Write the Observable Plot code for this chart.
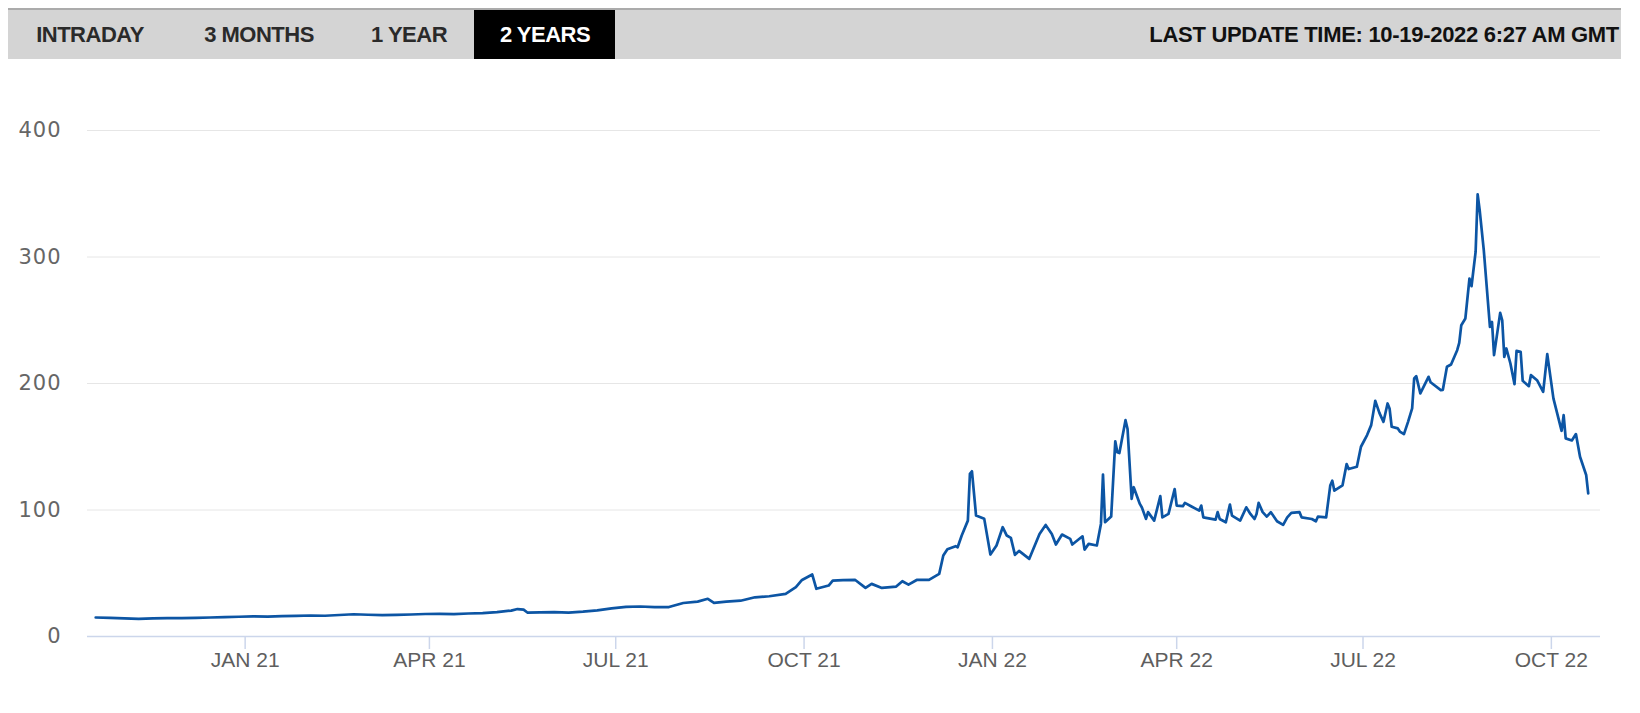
<!DOCTYPE html>
<html>
<head>
<meta charset="utf-8">
<script src="https://cdn.jsdelivr.net/npm/d3@7"></script>
<script src="https://cdn.jsdelivr.net/npm/@observablehq/plot@0.6"></script>
<style>
  html, body { margin: 0; padding: 0; background: #fff; width: 1640px; height: 713px; overflow: hidden; }
  #bar { position: absolute; left: 8px; top: 8px; width: 1613px; height: 49px; background: #d4d4d4; border-top: 2px solid #ababab; }
  .tab { position: absolute; top: 0; height: 49px; line-height: 49px; font-family: "Liberation Sans", Arial, sans-serif; font-weight: bold; font-size: 22px; letter-spacing: -0.5px; color: #2a2a2a; transform: translateX(-50%); white-space: nowrap; }
  #active { position: absolute; left: 466px; top: 0; width: 141px; height: 49px; background: #000; }
  #upd { position: absolute; right: 2px; top: 0; height: 49px; line-height: 49px; font-family: "Liberation Sans", Arial, sans-serif; font-weight: bold; font-size: 22px; letter-spacing: -0.3px; color: #111; white-space: nowrap; }
  #chart { position: absolute; left: 0; top: 60px; }
  #chart g[aria-label="y-axis tick label"] text { letter-spacing: 1px; }
</style>
</head>
<body>
<div id="bar">
  <div id="active"></div>
  <div class="tab" style="left:82px">INTRADAY</div>
  <div class="tab" style="left:251px">3 MONTHS</div>
  <div class="tab" style="left:401px">1 YEAR</div>
  <div class="tab" style="left:537px;color:#fff">2 YEARS</div>
  <div id="upd">LAST UPDATE TIME: 10-19-2022 6:27 AM GMT</div>
</div>
<div id="chart"></div>
<script>
// ---- data ----
const dates = [
  "2020-10-20","2020-10-27","2020-11-03","2020-11-10","2020-11-17","2020-11-24","2020-12-01","2020-12-08","2020-12-15","2020-12-22","2020-12-29",
  "2021-01-05","2021-01-12","2021-01-19","2021-01-26","2021-02-02","2021-02-09","2021-02-16","2021-02-23","2021-03-02","2021-03-09","2021-03-16",
  "2021-03-23","2021-03-30","2021-04-06","2021-04-13","2021-04-20","2021-04-27","2021-05-04","2021-05-11","2021-05-14","2021-05-17","2021-05-19",
  "2021-05-25","2021-06-01","2021-06-08","2021-06-15","2021-06-22","2021-06-29","2021-07-06","2021-07-13","2021-07-20","2021-07-27","2021-08-03",
  "2021-08-10","2021-08-15","2021-08-18","2021-08-24","2021-08-31","2021-09-07","2021-09-14","2021-09-22","2021-09-27","2021-09-30","2021-10-05",
  "2021-10-07","2021-10-13","2021-10-15","2021-10-20","2021-10-26","2021-10-31","2021-11-03","2021-11-08","2021-11-15","2021-11-18","2021-11-21",
  "2021-11-25","2021-12-01","2021-12-06","2021-12-08","2021-12-10","2021-12-14","2021-12-15","2021-12-17","2021-12-20","2021-12-21","2021-12-22",
  "2021-12-24","2021-12-28","2021-12-31","2022-01-03","2022-01-06","2022-01-08","2022-01-10","2022-01-12","2022-01-14","2022-01-19","2022-01-24",
  "2022-01-27","2022-01-30","2022-02-01","2022-02-04","2022-02-08","2022-02-09","2022-02-14","2022-02-15","2022-02-17","2022-02-21","2022-02-23",
  "2022-02-24","2022-02-25","2022-02-28","2022-03-02","2022-03-03","2022-03-04","2022-03-07","2022-03-08","2022-03-10","2022-03-11","2022-03-14",
  "2022-03-15","2022-03-17","2022-03-18","2022-03-21","2022-03-24","2022-03-25","2022-03-28","2022-03-31","2022-04-01","2022-04-04","2022-04-05",
  "2022-04-08","2022-04-12","2022-04-13","2022-04-14","2022-04-20","2022-04-21","2022-04-22","2022-04-25","2022-04-27","2022-04-28","2022-05-02",
  "2022-05-05","2022-05-07","2022-05-09","2022-05-10","2022-05-11","2022-05-13","2022-05-15","2022-05-17","2022-05-20","2022-05-23","2022-05-25",
  "2022-05-27","2022-05-31","2022-06-01","2022-06-06","2022-06-08","2022-06-09","2022-06-13","2022-06-15","2022-06-16","2022-06-17","2022-06-21",
  "2022-06-23","2022-06-24","2022-06-28","2022-06-30","2022-07-03","2022-07-05","2022-07-07","2022-07-09","2022-07-11","2022-07-13","2022-07-14",
  "2022-07-15","2022-07-18","2022-07-19","2022-07-21","2022-07-23","2022-07-25","2022-07-26","2022-07-27","2022-07-29","2022-08-02","2022-08-03",
  "2022-08-08","2022-08-09","2022-08-11","2022-08-13","2022-08-16","2022-08-17","2022-08-18","2022-08-20","2022-08-22","2022-08-23","2022-08-25",
  "2022-08-26","2022-08-27","2022-08-29","2022-09-01","2022-09-02","2022-09-03","2022-09-06","2022-09-07","2022-09-08","2022-09-09","2022-09-11",
  "2022-09-13","2022-09-14","2022-09-16","2022-09-17","2022-09-20","2022-09-21","2022-09-24","2022-09-27","2022-09-29","2022-10-02","2022-10-06",
  "2022-10-07","2022-10-08","2022-10-11","2022-10-13","2022-10-15","2022-10-18","2022-10-19"
];
const values = [
  15.0,14.8,14.4,14.0,14.3,14.6,14.5,14.8,15.0,15.3,15.6,
  15.9,15.7,16.1,16.3,16.6,16.4,17.0,17.6,17.2,16.9,17.1,
  17.4,17.8,17.9,17.7,18.2,18.5,19.2,20.5,21.7,21.2,18.8,
  19.0,19.3,18.9,19.6,20.6,22.2,23.4,23.7,23.2,23.3,26.5,
  27.6,29.8,26.6,27.5,28.3,31.0,31.8,33.7,39.0,44.7,49.0,
  37.7,40.3,44.2,44.5,44.7,38.4,41.6,38.4,39.5,43.7,41.0,
  44.7,44.7,49.5,64.0,69.0,71.4,70.5,79.8,91.6,128.5,130.6,
  95.6,93.0,64.8,71.9,86.4,79.8,78.0,64.5,67.7,61.4,81.1,
  88.2,81.1,72.7,80.6,77.2,72.7,79.2,68.7,73.2,71.9,89.0,
  128.0,90.3,94.8,154.3,145.6,145.0,171.0,164.0,108.8,118.0,104.8,
  102.0,93.0,98.3,91.6,111.0,94.2,96.9,116.6,103.5,103.0,105.6,
  103.0,99.5,103.5,94.2,92.4,98.3,92.9,90.3,104.3,95.6,91.6,
  102.1,96.9,92.9,96.9,105.6,98.3,94.8,98.3,91.1,88.2,94.2,
  97.7,98.3,94.2,92.9,91.1,94.8,94.2,119.3,123.2,115.3,119.5,
  136.3,132.4,134.2,150.0,159.2,167.1,186.3,176.8,169.7,184.2,180.0,
  165.8,164.5,162.0,160.0,169.7,180.3,204.0,205.8,192.2,205.3,201.0,
  194.8,195.0,213.2,215.0,226.3,232.1,246.1,251.4,283.0,276.9,304.0,
  349.5,336.9,305.3,244.7,248.6,222.4,255.8,250.0,221.0,227.7,215.8,
  199.5,225.8,225.0,202.1,197.9,206.6,202.6,193.4,223.2,188.2,162.6,
  175.0,156.6,155.0,160.0,142.1,127.7,113.2
];
const yTicks = [0, 100, 200, 300, 400];
const xTickDates = ["2021-01-01","2021-04-01","2021-07-01","2021-10-01","2022-01-01","2022-04-01","2022-07-01","2022-10-01"];
const xTickLabels = ["JAN 21","APR 21","JUL 21","OCT 21","JAN 22","APR 22","JUL 22","OCT 22"];
const xDomain = ["2020-10-16", "2022-10-25"];

// ---- build ----
const parse = d3.utcParse("%Y-%m-%d");
const series = dates.map((d, i) => ({date: parse(d), value: values[i]}));
const xTicks = xTickDates.map(parse);

const chart = Plot.plot({
  width: 1640,
  height: 653,
  marginLeft: 87,
  marginRight: 40,
  marginTop: 70,
  marginBottom: 77,
  style: {background: "transparent", overflow: "visible"},
  x: {type: "utc", domain: xDomain.map(parse), label: null},
  y: {domain: [0, 400], label: null},
  marks: [
    Plot.gridY(yTicks.filter(t => t > 0), {stroke: "#e6e6e6", strokeOpacity: 1, strokeWidth: 1}),
    Plot.ruleY([0], {stroke: "#ccd6eb", strokeWidth: 1.5}),
    Plot.axisY({
      ticks: yTicks, tickSize: 0, tickPadding: 26, label: null,
      fontSize: 21, fontFamily: "DejaVu Sans, sans-serif", fill: "#666", stroke: "none"
    }),
    Plot.axisX({
      ticks: xTicks, tickSize: 13, tickPadding: 3, label: null,
      tickFormat: d => xTickLabels[xTicks.findIndex(t => +t === +d)],
      stroke: "#ccd6eb", strokeWidth: 1.5,
      fontSize: 21, fontFamily: "Liberation Sans, Arial, sans-serif", fill: "#5e5e5e"
    }),
    Plot.lineY(series, {x: "date", y: "value", stroke: "#0c55a4", strokeWidth: 2.7, strokeLinejoin: "round"})
  ]
});
document.getElementById("chart").appendChild(chart);
</script>
</body>
</html>
